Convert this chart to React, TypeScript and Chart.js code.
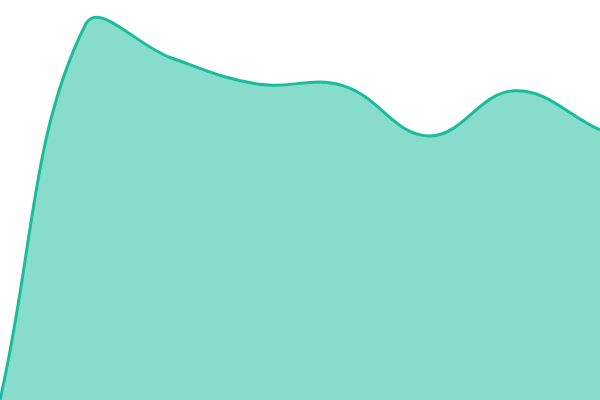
import React, { useEffect, useRef } from "react";
import { Chart, registerables } from "chart.js";

Chart.register(...registerables);

const labels = ["1", "2", "3", "4", "5", "6", "7", "8"];
const values = [0, 94, 85.5, 79, 78.6, 66, 77.3, 67.5];

export default function App() {
  const ref = useRef<HTMLCanvasElement | null>(null);
  useEffect(() => {
    if (!ref.current) return;
    const chart = new Chart(ref.current, {
      type: "line",
      data: {
        labels,
        datasets: [
          {
            data: values,
            borderColor: "#1abc9c",
            backgroundColor: "rgba(26,188,156,0.52)",
            borderWidth: 3,
            fill: "origin",
            tension: 0.4,
            pointRadius: 0,
          },
        ],
      },
      options: {
        animation: false,
        responsive: false,
        maintainAspectRatio: false,
        layout: { padding: 0 },
        plugins: { legend: { display: false }, tooltip: { enabled: false } },
        scales: {
          x: { display: false, offset: false },
          y: { display: false, min: 0, max: 100 },
        },
      },
    });
    return () => chart.destroy();
  }, []);
  return (
    <div style={{ position: "fixed", left: 0, top: 0, width: 600, height: 400, background: "#fff" }}>
      <canvas ref={ref} width={600} height={400} style={{ width: 600, height: 400, display: "block" }} />
    </div>
  );
}
